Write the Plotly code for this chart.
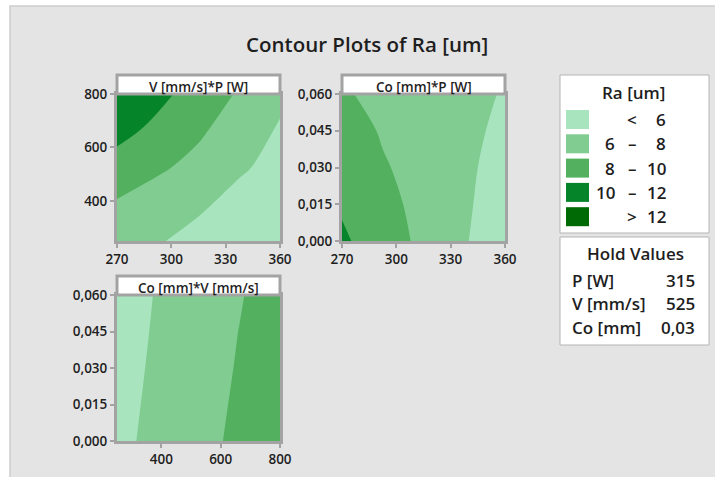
import plotly.graph_objects as go

# ---- data -------------------------------------------------------------
P_W = [270, 292.5, 315, 337.5, 360]
V_MMS = [250, 387.5, 525, 662.5, 800]
CO_MM = [0, 0.015, 0.03, 0.045, 0.06]

# Ra [um] response surfaces (rows follow the y variable, columns the x variable)
RA_V_P = [  # rows: V, cols: P  (Co held at 0,03)
    [6.9, 6.15, 5.4, 4.6, 3.9],
    [7.8, 7.0, 6.3, 5.4, 4.6],
    [9.2, 8.3, 7.4, 6.25, 5.4],
    [10.6, 9.5, 8.3, 7.0, 5.8],
    [11.5, 10.5, 9.2, 7.8, 6.4],
]
RA_CO_P = [  # rows: Co, cols: P  (V held at 525)
    [10.4, 8.65, 7.7, 6.1, 5.2],
    [9.7, 8.4, 7.6, 6.2, 5.3],
    [9.2, 8.15, 7.4, 6.3, 5.4],
    [8.8, 7.85, 7.2, 6.45, 5.6],
    [8.3, 7.3, 6.95, 6.6, 5.85],
]
RA_CO_V = [  # rows: Co, cols: V  (P held at 315)
    [5.55, 6.5, 7.55, 8.3, 9.1],
    [5.47, 6.38, 7.47, 8.2, 9.0],
    [5.4, 6.27, 7.4, 8.1, 8.9],
    [5.32, 6.18, 7.3, 8.02, 8.8],
    [5.25, 6.1, 7.2, 7.9, 8.7],
]

LEVEL_START, LEVEL_END, LEVEL_STEP = 6, 12, 2
BAND_COLORS = ["#a8e5bf", "#80cc91", "#53b05f", "#05842a", "#006a04"]
BAND_LEFT = ["", "6", "8", "10", ""]
BAND_MID = ["<", "–", "–", "–", ">"]
BAND_RIGHT = ["6", "8", "10", "12", "12"]

PANEL_TITLES = ["V [mm/s]*P [W]", "Co [mm]*P [W]", "Co [mm]*V [mm/s]"]
P_TICKS = [270, 300, 330, 360]
V_TICKS = [400, 600, 800]
CO_TICKS = [0, 0.015, 0.03, 0.045, 0.06]

HOLD_NAMES = ["P [W]", "V [mm/s]", "Co [mm]"]
HOLD_VALUES = ["315", "525", "0,03"]

# ---- geometry helpers (pixel -> paper) --------------------------------
W, H = 715, 477
def fx(x):
    return x / W
def fy(y):
    return 1 - y / H

FONT = "Open Sans"
TXT = "#1e1e1e"
FRAME = "#a3a3a3"

colorscale = [[i / (len(BAND_COLORS) - 1), c] for i, c in enumerate(BAND_COLORS)]

fig = go.Figure()

panels = [
    # (x, y, z, xaxis, yaxis, plot box px (x0, y0, x1, y1))
    (P_W, V_MMS, RA_V_P, "x", "y", (117, 94, 280, 241)),
    (P_W, CO_MM, RA_CO_P, "x2", "y2", (342, 94, 505, 241)),
    (V_MMS, CO_MM, RA_CO_V, "x3", "y3", (117, 295, 280, 441)),
]

for xs, ys, zs, xa, ya, _ in panels:
    fig.add_trace(go.Contour(
        x=xs, y=ys, z=zs, xaxis=xa, yaxis=ya,
        autocontour=False,
        contours=dict(start=LEVEL_START, end=LEVEL_END, size=LEVEL_STEP,
                      coloring="fill", showlines=False),
        line=dict(width=0, smoothing=1),
        colorscale=colorscale, showscale=False, hoverinfo="skip",
    ))

def co_text(v):
    return f"{v:.3f}".replace(".", ",")

axis_common = dict(
    showgrid=False, zeroline=False, showline=True, mirror=True,
    automargin=False,
    linecolor=FRAME, linewidth=3, ticks="outside", ticklen=4, tickwidth=2,
    tickcolor=FRAME, tickfont=dict(family=FONT, size=13.5, color=TXT, weight=600),
)

(b1, b2, b3) = [p[5] for p in panels]
layout_axes = dict(
    xaxis=dict(domain=[fx(b1[0]), fx(b1[2])], range=[270, 360], anchor="y",
               tickvals=P_TICKS, **axis_common),
    yaxis=dict(domain=[fy(b1[3]), fy(b1[1])], range=[250, 800], anchor="x",
               tickvals=V_TICKS, **axis_common),
    xaxis2=dict(domain=[fx(b2[0]), fx(b2[2])], range=[270, 360], anchor="y2",
                tickvals=P_TICKS, **axis_common),
    yaxis2=dict(domain=[fy(b2[3]), fy(b2[1])], range=[0, 0.06], anchor="x2",
                tickvals=CO_TICKS, ticktext=[co_text(v) for v in CO_TICKS],
                **axis_common),
    xaxis3=dict(domain=[fx(b3[0]), fx(b3[2])], range=[250, 800], anchor="y3",
                tickvals=V_TICKS, **axis_common),
    yaxis3=dict(domain=[fy(b3[3]), fy(b3[1])], range=[0, 0.06], anchor="x3",
                tickvals=CO_TICKS, ticktext=[co_text(v) for v in CO_TICKS],
                **axis_common),
)

shapes = []
annotations = []

# grey canvas, running off the right and bottom edges
shapes.append(dict(type="rect", xref="paper", yref="paper",
                   x0=fx(10), y0=-0.05, x1=1.05, y1=fy(6),
                   fillcolor="#e4e4e4", line=dict(width=0), layer="below"))
shapes.append(dict(type="path", xref="paper", yref="paper",
                   path=f"M {fx(10)},0 L {fx(10)},{fy(6)} L 1,{fy(6)}",
                   line=dict(color="#cdcdcd", width=1.5), layer="below"))

# panel headers
for (x0, y0, x1, y1), title in zip([b1, b2, b3], PANEL_TITLES):
    shapes.append(dict(type="rect", xref="paper", yref="paper",
                       x0=fx(x0), x1=fx(x1), y0=fy(y0), y1=fy(y0 - 19),
                       fillcolor="white", line=dict(color=FRAME, width=3)))
    annotations.append(dict(xref="paper", yref="paper",
                            x=fx((x0 + x1) / 2), y=fy(y0 - 7),
                            text=title, showarrow=False,
                            xanchor="center", yanchor="middle",
                            font=dict(family=FONT, size=13.5, color=TXT, weight=600)))

# main title
annotations.append(dict(xref="paper", yref="paper", x=fx(367), y=fy(44),
                        text="Contour Plots of Ra [um]", showarrow=False,
                        xanchor="center", yanchor="middle",
                        font=dict(family=FONT, size=20.5, color=TXT, weight=600)))

lg_font = dict(family=FONT, size=17, color=TXT, weight=600)

# legend box
shapes.append(dict(type="rect", xref="paper", yref="paper",
                   x0=fx(560), x1=fx(709), y0=fy(233), y1=fy(75),
                   fillcolor="white", line=dict(color="#b4b4b4", width=1)))
annotations.append(dict(xref="paper", yref="paper", x=fx(633), y=fy(93),
                        text="Ra [um]", showarrow=False,
                        xanchor="center", yanchor="middle", font=lg_font))
for i, color in enumerate(BAND_COLORS):
    yc = 119.5 + i * 24.3
    shapes.append(dict(type="rect", xref="paper", yref="paper",
                       x0=fx(566), x1=fx(589), y0=fy(yc + 9.5), y1=fy(yc - 9.5),
                       fillcolor=color, line=dict(width=0)))
    if BAND_LEFT[i]:
        annotations.append(dict(xref="paper", yref="paper", x=fx(617), y=fy(yc),
                                text=BAND_LEFT[i], showarrow=False,
                                xanchor="right", yanchor="middle", font=lg_font))
    annotations.append(dict(xref="paper", yref="paper", x=fx(632), y=fy(yc),
                            text=BAND_MID[i], showarrow=False,
                            xanchor="center", yanchor="middle", font=lg_font))
    annotations.append(dict(xref="paper", yref="paper", x=fx(668), y=fy(yc),
                            text=BAND_RIGHT[i], showarrow=False,
                            xanchor="right", yanchor="middle", font=lg_font))

# hold values box
shapes.append(dict(type="rect", xref="paper", yref="paper",
                   x0=fx(560), x1=fx(709), y0=fy(345), y1=fy(237),
                   fillcolor="white", line=dict(color="#b4b4b4", width=1)))
annotations.append(dict(xref="paper", yref="paper", x=fx(635), y=fy(253),
                        text="Hold Values", showarrow=False,
                        xanchor="center", yanchor="middle", font=lg_font))
for i, (name, val) in enumerate(zip(HOLD_NAMES, HOLD_VALUES)):
    yc = 280 + i * 23.5
    annotations.append(dict(xref="paper", yref="paper", x=fx(570), y=fy(yc),
                            text=name, showarrow=False,
                            xanchor="left", yanchor="middle", font=lg_font))
    annotations.append(dict(xref="paper", yref="paper", x=fx(697), y=fy(yc),
                            text=val, showarrow=False,
                            xanchor="right", yanchor="middle", font=lg_font))

fig.update_layout(
    width=W, height=H, autosize=False,
    margin=dict(l=0, r=0, t=0, b=0, pad=0),
    paper_bgcolor="white", plot_bgcolor="rgba(0,0,0,0)",
    showlegend=False,
    shapes=shapes, annotations=annotations,
    **layout_axes,
)

fig.write_html("out.html")
